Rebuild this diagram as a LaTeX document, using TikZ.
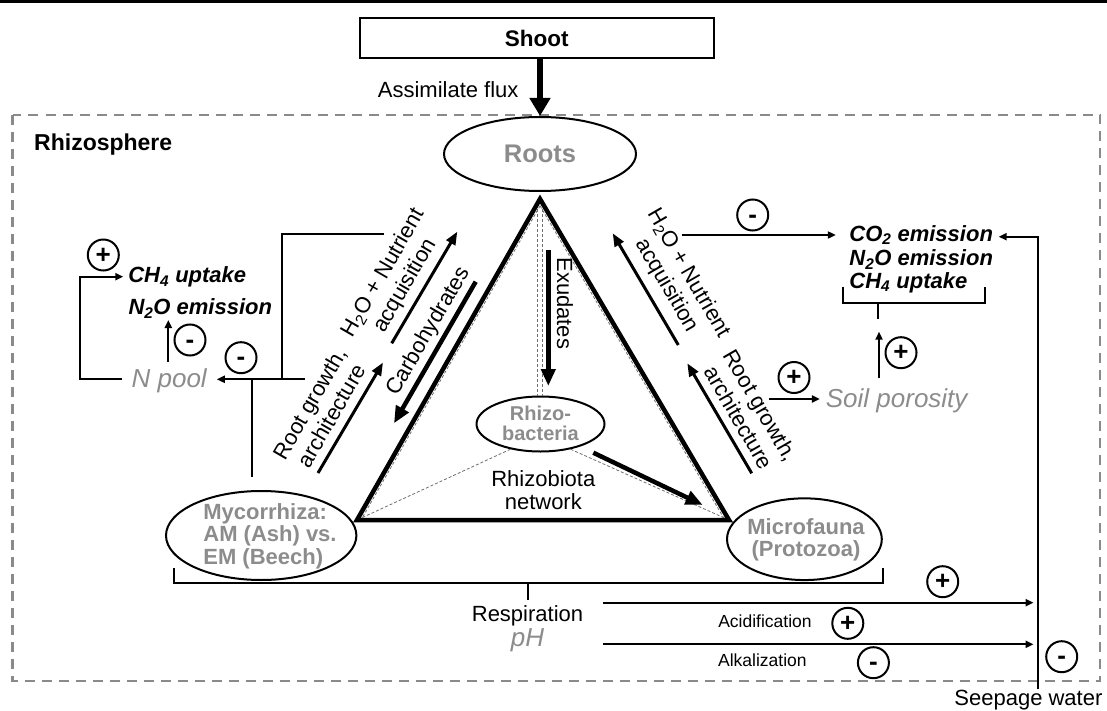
\documentclass[tikz,border=0pt]{standalone}
\usepackage{fontspec}
\setmainfont{Liberation Sans}
\usetikzlibrary{arrows.meta,shapes.geometric}
\definecolor{tgray}{RGB}{140,140,140}
\definecolor{dgray}{RGB}{138,138,138}
\definecolor{ngray}{RGB}{110,110,110}
\newcommand{\myfs}[2]{\fontsize{#1}{#2}\selectfont}
\begin{document}
\begin{tikzpicture}[x=1pt,y=-1pt,
  lab/.style={inner sep=0pt, align=center, font=\myfs{22}{25}},
  small/.style={inner sep=0pt, font=\myfs{17.5}{20}},
  bl/.style={inner sep=0pt, align=center, font=\myfs{22.5}{25}\bfseries},
  gb/.style={inner sep=0pt, text=tgray, font=\myfs{22}{22.5}\bfseries},
  gi/.style={inner sep=0pt, text=tgray, font=\myfs{26}{28}\itshape},
  bi/.style={inner sep=0pt, anchor=west, font=\myfs{22}{25}\bfseries\itshape},
  ell/.style={ellipse, draw, line width=2pt, inner sep=0pt},
  sign/.style={circle, draw, line width=2pt, minimum size=31pt, inner sep=0pt,
    font=\myfs{26}{26}\bfseries, text height=16.5pt, text depth=0pt},
  ln/.style={line width=2pt},
  tarr/.style={line width=2pt, -{Triangle[length=8pt,width=7pt]}},
  marr/.style={line width=3pt, -{Triangle[length=13pt,width=10pt]}},
  karr/.style={line width=4.5pt, -{Triangle[length=17pt,width=14pt]}},
  net/.style={line width=0.8pt, dash pattern=on 3pt off 2pt, ngray},
]
\useasboundingbox (0,0) rectangle (1107,711);
% header rule
\draw[line width=2.7pt] (0,1.35) -- (1107,1.35);
% rhizosphere frame
\draw[dgray, line width=2.5pt, dash pattern=on 10pt off 7pt] (12.5,115) rectangle (1100,681);
\node[bl, anchor=west, font=\myfs{23}{25}\bfseries] (rhiz) at (34,145) {Rhizosphere};

% shoot and roots
\node[draw, line width=2pt, minimum width=353.6pt, minimum height=40pt, inner sep=0pt,
  font=\myfs{22.5}{25}\bfseries] (shoot) at (536.8,38.3) {Shoot};
\node[ell, minimum width=192pt, minimum height=74pt, text=tgray,
  font=\myfs{25.5}{28}\bfseries] (roots) at (540,154) {Roots};
\draw[line width=6.5pt, -{Triangle[length=18pt,width=20pt]}] (shoot.south -| roots.north) -- (roots.north);
\node[lab] (flux) at (448.2,90) {Assimilate flux};

% triangle corners
\coordinate (A) at (540,199);
\coordinate (L) at (357,520);
\coordinate (R) at (729,520);

% ellipses
\node[ell, minimum width=128pt, minimum height=55pt] (rb) at (540.5,424) {};
\node[gb, align=center, font=\myfs{20}{19.4}\bfseries] (rbt) at (540.5,423.5) {Rhizo-\\bacteria};
\node[ell, minimum width=190.4pt, minimum height=89pt] (myc) at (261.2,535.5) {};
\node[gb, align=left] (myct) at (270,536) {Mycorrhiza:\\AM (Ash) vs.\\EM (Beech)};
\node[ell, minimum width=154.8pt, minimum height=81.7pt] (mf) at (804.4,539.2) {};
\node[gb, align=center, font=\myfs{22}{22.4}\bfseries] (mft) at (806,540) {Microfauna\\(Protozoa)};

% rhizobiota network (thin dashed)
\coordinate (nl1) at (540.1,205.7); \coordinate (nl2) at (361.7,518.7);
\coordinate (nr1) at (540,205.8);   \coordinate (nr2) at (724.2,518.8);
\draw[net] (nl1) -- (nl2);
\draw[net] (nr1) -- (nr2);
\draw[net] ([xshift=-2.5pt]A) -- ([xshift=-3pt]rb.north);
\draw[net] ([xshift=2.5pt]A) -- ([xshift=2pt]rb.north);
\draw[net] (rb.-140) -- (L);
\draw[net] (rb.-40) -- (R);

% main triangle
\draw[line width=4.5pt, line join=miter] (A) -- (L) -- (R) -- cycle;

\node[lab, font=\myfs{22}{23.4}] (rnet) at (543.3,490) {Rhizobiota\\network};

% exudates
\coordinate (ex1) at (548.3,250); \coordinate (ex2) at (548.3,386);
\draw[karr] (ex1) -- (ex2);
\node[lab, rotate=-90] (exl) at (565,303.3) {Exudates};

% rhizobacteria -> microfauna
\coordinate (bm1) at (593.3,452.7); \coordinate (bm2) at (702.7,505);
\draw[karr] (bm1) -- (bm2);

% left side arrows
\coordinate (lh1) at (391.7,343.3); \coordinate (lh2) at (457.3,231.7);
\draw[marr] (lh1) -- (lh2);
\coordinate (lc1) at (475.7,281.7); \coordinate (lc2) at (394,423.3);
\draw[karr] (lc1) -- (lc2);
\coordinate (lr1) at (318,473); \coordinate (lr2) at (383,362.5);
\draw[marr] (lr1) -- (lr2);
\node[lab, rotate=60] (lh2o) at (394.5,279.5) {H\textsubscript{2}O + Nutrient\\acquisition};
\node[lab, rotate=60] (lcarb) at (429,331.5) {Carbohydrates};
\node[lab, rotate=60] (lroot) at (320.5,409.5) {Root growth,\\architecture};

% right side arrows
\coordinate (rh1) at (678.3,345); \coordinate (rh2) at (612.7,233.3);
\draw[marr] (rh1) -- (rh2);
\coordinate (rr1) at (751.7,473.3); \coordinate (rr2) at (687.3,363.3);
\draw[marr] (rr1) -- (rr2);
\node[lab, rotate=-60] (rh2o) at (677.5,279.5) {H\textsubscript{2}O + Nutrient\\acquisition};
\node[lab, rotate=-60] (rroot) at (750,411.5) {Root growth,\\architecture};

% left feedback
\node[bi, outer xsep=5pt] (ch4l) at (123.3,277.3) {CH\textsubscript{4} uptake};
\node[bi] (n2ol) at (128.3,308.3) {N\textsubscript{2}O emission};
\node[gi, outer xsep=10pt] (npool) at (169.2,381) {N pool};
\coordinate (fb1) at (384.3,234.3); \coordinate (fb2) at (282.3,234.3); \coordinate (fb3) at (282.3,379.3);
\draw[ln] (fb1) -- (fb2) -- (fb3);
\coordinate (np1) at (305,379.3);
\draw[tarr] (np1) -- (np1 -| npool.east);
\coordinate (mu1) at (251.7,476.7);
\draw[ln] (mu1) -- (mu1 |- np1);
\coordinate (lp1) at (80,379.3); \coordinate (lp2) at (80,276.7);
\draw[tarr] (np1 -| npool.west) -- (lp1) -- (lp2) -- (lp2 -| ch4l.west);
\coordinate (lu1) at (168.3,361.7); \coordinate (lu2) at (168.3,320);
\draw[tarr] (lu1) -- (lu2);
\node[sign] (sl1) at (103.3,255) {+};
\node[sign] (sl2) at (190,340) {-};
\node[sign] (sl3) at (241,357.7) {-};

% right feedback
\node[bi] (co2) at (849.2,235) {CO\textsubscript{2} emission};
\node[bi] (n2or) at (849.2,259.3) {N\textsubscript{2}O emission};
\node[bi] (ch4r) at (849.2,282.7) {CH\textsubscript{4} uptake};
\coordinate (ra1) at (681.7,235); \coordinate (ra2) at (835.8,235);
\draw[tarr] (ra1) -- (ra2);
\node[sign] (sr1) at (752.7,215) {-};
\coordinate (cb1) at (843,286.7); \coordinate (cb2) at (843,302.7);
\coordinate (cb3) at (984.8,302.7); \coordinate (cb4) at (984.8,286.7);
\draw[ln] (cb1) -- (cb2) -- (cb3) -- (cb4);
\coordinate (ct1) at (878,302.7); \coordinate (ct2) at (878,319.3);
\draw[ln] (ct1) -- (ct2);
\coordinate (ua1) at (879,378.3); \coordinate (ua2) at (879,331.7);
\draw[tarr] (ua1) -- (ua2);
\node[sign] (sr2) at (901,352.7) {+};
\node[gi, outer xsep=6pt] (soil) at (896.7,401) {Soil porosity};
\coordinate (sp1) at (769.3,399);
\draw[tarr] (sp1) -- (sp1 -| soil.west);
\node[sign] (sr3) at (794,377.5) {+};

% seepage
\node[lab] (seep) at (1028.4,700) {Seepage water};
\coordinate (sw1) at (1037.7,689); \coordinate (sw2) at (1037.7,236.7); \coordinate (sw3) at (998.6,236.7);
\draw[tarr] (sw1) -- (sw2) -- (sw3);
\node[sign] (ss) at (1061.7,656.7) {-};

% bottom bracket and respiration
\coordinate (bb1) at (174.3,568.3); \coordinate (bb2) at (174.3,583.3);
\coordinate (bb3) at (882.9,583.3); \coordinate (bb4) at (882.9,568.3);
\draw[ln] (bb1) -- (bb2) -- (bb3) -- (bb4);
\coordinate (tk1) at (527.5,583.3); \coordinate (tk2) at (527.5,600);
\draw[ln] (tk1) -- (tk2);
\node[lab] (resp) at (527.5,615.5) {Respiration};
\node[gi] (ph) at (527.5,640) {pH};
\coordinate (a1s) at (603.3,602.7); \coordinate (a1e) at (1033.5,602.7);
\draw[tarr] (a1s) -- (a1e);
\node[sign] (sb1) at (942.7,581.7) {+};
\node[small] (acid) at (765,621) {Acidification};
\node[sign] (sb2) at (847.8,623.3) {+};
\coordinate (a2s) at (603.3,644.3); \coordinate (a2e) at (1033.5,644.3);
\draw[tarr] (a2s) -- (a2e);
\node[small] (alk) at (762.4,660) {Alkalization};
\node[sign] (sb3) at (873.4,662.7) {-};
\end{tikzpicture}
\end{document}
